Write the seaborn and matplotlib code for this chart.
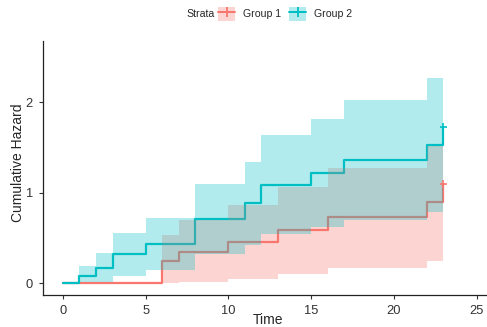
import numpy as np
import pandas as pd
import matplotlib
matplotlib.use("Agg")
import matplotlib.pyplot as plt
import seaborn as sns
from matplotlib.patches import Patch
from matplotlib.lines import Line2D

# ---- data ----
strata = ["Group 1", "Group 2"]

g1_time = [0, 6, 7, 10, 13, 16, 22, 23]
g1_haz = [0.0, 0.25, 0.35, 0.46, 0.585, 0.73, 0.895, 1.10]
g1_lower = [0.0, 0.003, 0.012, 0.05, 0.103, 0.174, 0.25, 0.25]
g1_upper = [0.0, 0.537, 0.696, 0.87, 1.063, 1.278, 1.52, 1.52]

g2_time = [0, 1, 2, 3, 5, 8, 11, 12, 15, 17, 22, 23]
g2_haz = [0.0, 0.083, 0.167, 0.32, 0.437, 0.714, 0.885, 1.09, 1.22, 1.367, 1.53, 1.73]
g2_lower = [0.0, 0.011, 0.011, 0.081, 0.148, 0.32, 0.418, 0.544, 0.618, 0.703, 0.789, 0.789]
g2_upper = [0.0, 0.192, 0.337, 0.555, 0.72, 1.10, 1.344, 1.644, 1.822, 2.025, 2.27, 2.27]

censor_time = [23, 23]
censor_haz = [1.10, 1.73]

x_ticks = [0, 5, 10, 15, 20, 25]
y_ticks = [0, 1, 2]

colors = {"Group 1": "#F8766D", "Group 2": "#00BFC4"}

# ---- build frames ----
df = pd.concat([
    pd.DataFrame({"time": g1_time, "haz": g1_haz, "lower": g1_lower,
                  "upper": g1_upper, "strata": "Group 1"}),
    pd.DataFrame({"time": g2_time, "haz": g2_haz, "lower": g2_lower,
                  "upper": g2_upper, "strata": "Group 2"}),
], ignore_index=True)
cens = pd.DataFrame({"time": censor_time, "haz": censor_haz, "strata": strata})

sns.set_style("ticks")
plt.rcParams["font.family"] = ["Liberation Sans", "DejaVu Sans"]

W, H = 487, 327
fig = plt.figure(figsize=(W / 100, H / 100), dpi=100)
left, right, bottom, top = 42.7, 486.5, 295, 41
aw, ah = right - left, bottom - top
ax = fig.add_axes([left / W, 1 - bottom / H, aw / W, ah / H])

sns.lineplot(data=df, x="time", y="haz", hue="strata", palette=colors,
             drawstyle="steps-post", lw=1.6, estimator=None, legend=False,
             ax=ax, zorder=2)

for s in strata:
    d = df[df.strata == s]
    ax.fill_between(d["time"], d["lower"], d["upper"], step="post",
                    color=colors[s], alpha=0.3, lw=0, zorder=3)

sns.scatterplot(data=cens, x="time", y="haz", hue="strata", palette=colors,
                marker="+", s=32, linewidth=1.2, legend=False, ax=ax, zorder=4)

ax.set_xlim(-1.22, 25.6)
ax.set_ylim(-0.13, 2.68)
ax.set_xticks(x_ticks)
ax.set_yticks(y_ticks)
ax.tick_params(axis="both", length=3, width=0.8, color="#333333",
               labelsize=9.3, labelcolor="#333333")
ax.tick_params(axis="x", pad=4.5)
ax.tick_params(axis="y", pad=4)
for sp in ["top", "right"]:
    ax.spines[sp].set_visible(False)
for sp in ["left", "bottom"]:
    ax.spines[sp].set_linewidth(0.9)
    ax.spines[sp].set_color("#222222")
ax.set_xlabel("Time", fontsize=10)
ax.set_ylabel("Cumulative Hazard", fontsize=10)
ax.xaxis.set_label_coords((268 - left) / aw, -(313.5 - bottom) / ah)
ax.yaxis.set_label_coords(-(left - 25) / aw, (bottom - 163) / ah)

handles = [(Patch(facecolor=colors[s], alpha=0.3, edgecolor="none"),
            Line2D([], [], color=colors[s], lw=1.4, marker="+", markersize=7,
                   markeredgewidth=1.3)) for s in strata]
fig.legend(handles, strata, loc="center", bbox_to_anchor=(285 / W, 1 - 14 / H),
           ncol=2, frameon=False, fontsize=7.6, handlelength=1.6,
           handleheight=1.6, handletextpad=0.7, columnspacing=0.8)
fig.text(186 / W, 1 - 14 / H, "Strata", fontsize=7.6, ha="left", va="center")

fig.savefig("out.png", dpi=100)
